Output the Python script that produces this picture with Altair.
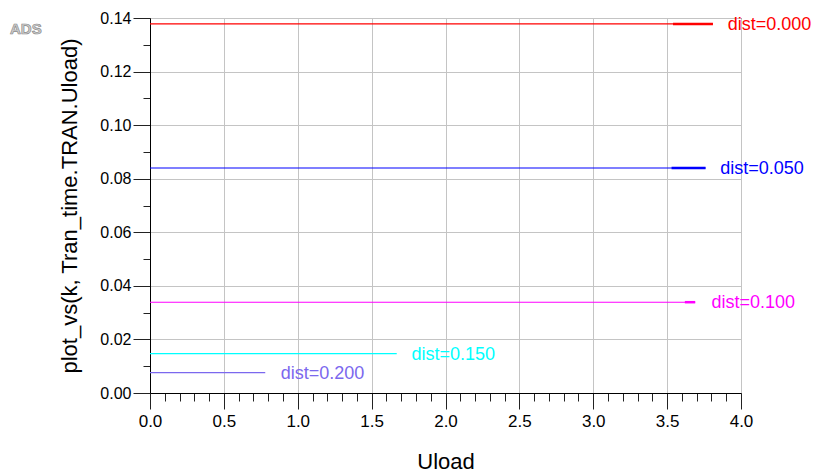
import altair as alt
import pandas as pd

# ---- data ----
series = ["dist=0.000", "dist=0.050", "dist=0.100", "dist=0.150", "dist=0.200"]
levels = [0.1378, 0.0840, 0.0339, 0.0147, 0.0076]
x_start = [0.0, 0.0, 0.0, 0.0, 0.0]
x_end = [3.81, 3.76, 3.69, 1.67, 0.78]
label_x = [3.91, 3.86, 3.80, 1.77, 0.885]
colors = ["#ff0000", "#0000ff", "#ff00ff", "#00ffff", "#7b68ee"]

tail_series = ["dist=0.000", "dist=0.050", "dist=0.100"]
tail_start = [3.54, 3.53, 3.62]
tail_end = [3.81, 3.76, 3.69]
tail_level = [0.1378, 0.0840, 0.0339]

x_ticks = [0.0, 0.1, 0.2, 0.3, 0.4, 0.5, 0.6, 0.7, 0.8, 0.9, 1.0, 1.1, 1.2, 1.3, 1.4,
           1.5, 1.6, 1.7, 1.8, 1.9, 2.0, 2.1, 2.2, 2.3, 2.4, 2.5, 2.6, 2.7, 2.8, 2.9,
           3.0, 3.1, 3.2, 3.3, 3.4, 3.5, 3.6, 3.7, 3.8, 3.9, 4.0]
y_ticks = [0.00, 0.01, 0.02, 0.03, 0.04, 0.05, 0.06, 0.07, 0.08, 0.09, 0.10,
           0.11, 0.12, 0.13, 0.14]

df = pd.DataFrame({"series": series, "level": levels, "x0": x_start,
                   "x1": x_end, "lx": label_x})
tails = pd.DataFrame({"series": tail_series, "level": tail_level,
                      "x0": tail_start, "x1": tail_end})

FONT = "Liberation Sans"
color = alt.Color("series:N", scale=alt.Scale(domain=series, range=colors), legend=None)

x_major = "abs(datum.value*2 - round(datum.value*2)) < 1e-6"
y_major = "abs(datum.value*50 - round(datum.value*50)) < 1e-6"

x_axis = alt.Axis(
    values=x_ticks, tickCount=len(x_ticks), labelOverlap=False, title="Uload",
    labelExpr=f"{x_major} ? format(datum.value, '.1f') : ''",
    tickSize={"condition": {"test": x_major, "value": 16}, "value": 8},
    gridOpacity={"condition": {"test": x_major, "value": 1}, "value": 0},
    gridColor="#c4c4c4", grid=True, tickColor="#222", domainColor="#000",
    labelFont=FONT, labelFontSize=17, labelColor="#000", labelPadding=4,
    labelFlush=False,
    titleFont=FONT, titleFontSize=22, titleFontWeight="normal", titleColor="#000",
    titleBaseline="alphabetic", titleY=75, titleX=295.5,
)
y_axis = alt.Axis(
    values=y_ticks, tickCount=len(y_ticks), labelOverlap=False,
    title="plot_vs(k, Tran_time.TRAN.Uload)",
    labelExpr=f"{y_major} ? format(datum.value, '.2f') : ''",
    tickSize={"condition": {"test": y_major, "value": 17}, "value": 7},
    gridOpacity={"condition": {"test": y_major, "value": 1}, "value": 0},
    gridColor="#c4c4c4", grid=True, tickColor="#222", domainColor="#000",
    labelFont=FONT, labelFontSize=16, labelColor="#000", labelPadding=2,
    labelFlush=False,
    titleFont=FONT, titleFontSize=22, titleFontWeight="normal", titleColor="#000",
    titleAngle=270, titleBaseline="alphabetic", titleX=-74, titleY=187.5,
    titleAlign="center",
)

xs = alt.Scale(domain=[0, 4], nice=False, zero=False)
ys = alt.Scale(domain=[0, 0.14], nice=False, zero=False)

lines = alt.Chart(df).mark_rule(strokeWidth=1.1).encode(
    x=alt.X("x0:Q", scale=xs, axis=x_axis),
    x2="x1:Q",
    y=alt.Y("level:Q", scale=ys, axis=y_axis),
    color=color,
)

tail = alt.Chart(tails).mark_rule(strokeWidth=2.5).encode(
    x=alt.X("x0:Q", scale=xs),
    x2="x1:Q",
    y=alt.Y("level:Q", scale=ys),
    color=color,
)

labels = alt.Chart(df).mark_text(
    align="left", baseline="middle", font=FONT, fontSize=18, dy=1
).encode(
    x=alt.X("lx:Q", scale=xs),
    y=alt.Y("level:Q", scale=ys),
    text="series:N",
    color=color,
)

logo = alt.Chart(pd.DataFrame({"t": ["ADS"]})).mark_text(
    align="left", baseline="middle", font=FONT, fontSize=15, fontWeight="bold",
    fill="#d0d0d0", stroke="#8a8a8a", strokeWidth=0.7,
).encode(x=alt.value(-140), y=alt.value(11), text="t:N")

chart = alt.layer(lines, tail, labels, logo).properties(
    width=591, height=375,
    padding={"left": 150, "top": 18, "right": 72, "bottom": 79},
    autosize=alt.AutoSizeParams(type="none"),
    background="white",
).configure_view(stroke="#000", strokeWidth=1)

chart.save("out.html", embed_options={"renderer": "svg", "actions": False})
